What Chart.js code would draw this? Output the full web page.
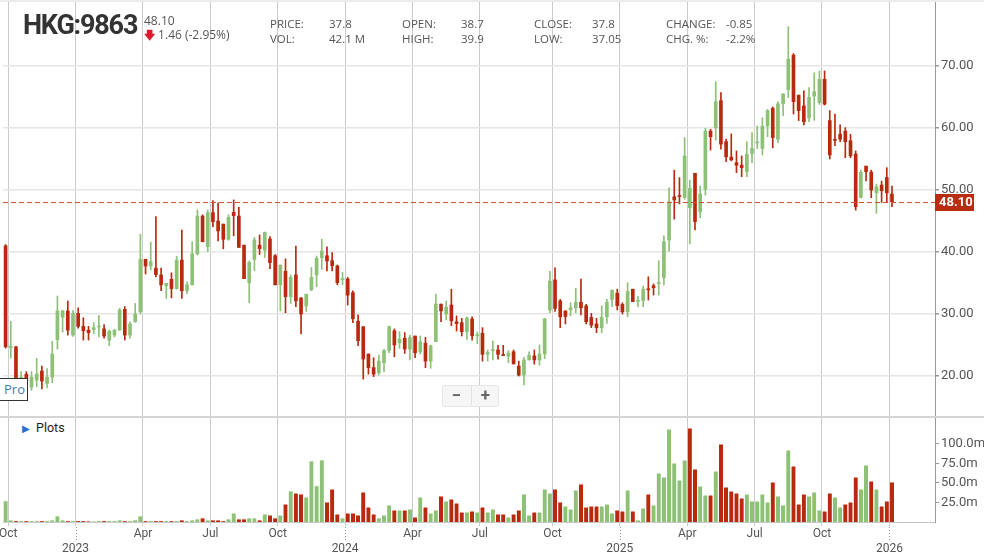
<!DOCTYPE html>
<html>
<head>
<meta charset="utf-8">
<script src="https://cdn.jsdelivr.net/npm/chart.js@4.4.1/dist/chart.umd.min.js"></script>
<style>
  html, body { margin: 0; padding: 0; background: #fff; }
  body { width: 984px; height: 556px; position: relative; overflow: hidden; font-family: "Open Sans", sans-serif; }
  canvas { position: absolute; left: 0; }
  #priceChart { top: 0; }
  #volumeChart { top: 418px; }
  .topband { position: absolute; left: 0; top: 0; width: 984px; height: 2px; background: #ececec; }
  .sep { position: absolute; left: 0; top: 416px; width: 984px; height: 2px; background: #d4d4d4; }
  .sym { position: absolute; left: 23px; top: 9px; font: bold 27px Roboto; letter-spacing: -1.2px; color: #333; }
  .last { position: absolute; left: 144px; top: 12px; font-size: 12px; color: #555; }
  .chg { position: absolute; left: 144px; top: 26px; font-size: 12px; color: #555; }
  .chg b { color: #e0182d; font-size: 11px; }
  .q { position: absolute; font-size: 11.5px; color: #555; line-height: 14px; }
  .plots { position: absolute; left: 20px; top: 420px; background: #fff; padding: 0 6px 0 2px; font: 12.5px Roboto; color: #222; }
  .plots span { color: #2a6fd6; font-size: 10px; margin-right: 6px; }
  .zoom { position: absolute; left: 442px; top: 385px; width: 55px; height: 20px; background: #f6f6f6; border: 1px solid #e6e6e6; border-radius: 2px; }
  .zoom div { position: absolute; top: -1px; width: 27px; text-align: center; font: bold 17px Roboto; color: #666; }
  .pro { position: absolute; left: -3px; top: 378px; width: 29px; height: 21px; border: 1.5px solid #333; background: #fff; font: 13px "Open Sans"; color: #4a78aa; line-height: 21px; text-indent: 6px; }
</style>
</head>
<body>
<canvas id="priceChart" width="984" height="418"></canvas>
<canvas id="volumeChart" width="984" height="138"></canvas>
<div class="topband"></div>
<div class="sep"></div>
<div class="sym">HKG:9863</div>
<div class="last">48.10</div>
<div class="chg"><b>&#129095;</b> 1.46 (-2.95%)</div>
<div class="q" style="left:270px;top:17px">PRICE:</div>
<div class="q" style="left:329px;top:17px">37.8</div>
<div class="q" style="left:270px;top:32px">VOL:</div>
<div class="q" style="left:329px;top:32px">42.1 M</div>
<div class="q" style="left:402px;top:17px">OPEN:</div>
<div class="q" style="left:461px;top:17px">38.7</div>
<div class="q" style="left:402px;top:32px">HIGH:</div>
<div class="q" style="left:461px;top:32px">39.9</div>
<div class="q" style="left:534px;top:17px">CLOSE:</div>
<div class="q" style="left:592px;top:17px">37.8</div>
<div class="q" style="left:534px;top:32px">LOW:</div>
<div class="q" style="left:592px;top:32px">37.05</div>
<div class="q" style="left:666px;top:17px">CHANGE:</div>
<div class="q" style="left:726px;top:17px">-0.85</div>
<div class="q" style="left:666px;top:32px">CHG. %:</div>
<div class="q" style="left:726px;top:32px">-2.2%</div>
<div class="plots"><span>&#9654;</span>Plots</div>
<div class="zoom"><div style="left:0">&minus;</div><div style="left:28px;border-left:1px solid #e2e2e2">+</div></div>
<div class="pro">Pro</div>
<script>
// weekly candles, first week starts Monday 2022-09-26
const firstWeek = "2022-09-26";

const openP = [41.0, 24.6, 24.7, 18.5, 20.3, 18.2, 19.35, 20.8, 18.8, 19.8,
  25.85, 29.5, 30.5, 26.6, 30.1, 28.0, 27.4, 27.5, 27.9, 27.6,
  25.8, 26.6, 27.4, 30.75, 26.6, 28.75, 30.4, 38.8, 37.75, 37.4,
  36.3, 34.55, 35.6, 34.1, 38.7, 33.75, 34.7, 39.7, 45.8, 40.85,
  46.35, 45.0, 44.5, 42.05, 46.4, 45.8, 41.1, 35.05, 38.8, 41.1,
  40.3, 42.1, 39.4, 34.7, 36.9, 32.8, 36.3, 32.6, 31.3, 33.9,
  36.3, 39.1, 39.4, 38.6, 37.75, 35.55, 35.65, 33.45, 28.85, 27.95,
  23.55, 21.35, 20.5, 22.15, 24.1, 27.3, 25.35, 26.1, 24.35, 26.45,
  23.9, 25.3, 22.4, 25.55, 31.6, 30.0, 31.45, 28.75, 28.6, 27.15,
  29.2, 26.5, 26.9, 23.5, 24.1, 24.2, 23.45, 23.2, 23.9, 21.6,
  20.15, 22.6, 23.25, 22.6, 23.55, 30.65, 35.5, 32.1, 30.5, 30.65,
  31.0, 31.9, 31.3, 29.45, 28.4, 27.8, 29.55, 32.35, 33.35, 31.55,
  30.35, 34.0, 32.05, 32.15, 34.05, 34.55, 34.9, 35.85, 41.95, 48.9,
  49.05, 48.8, 47.15, 52.7, 46.5, 50.1, 59.5, 60.05, 64.4, 57.8,
  55.3, 54.4, 54.0, 52.95, 55.9, 57.6, 56.7, 60.35, 63.15, 58.2,
  63.9, 66.2, 71.75, 65.3, 63.55, 61.65, 65.15, 64.1, 67.85, 61.2,
  58.1, 59.0, 59.5, 57.95, 55.8, 48.75, 53.85, 52.9, 49.55, 50.8,
  52.0, 49.35];
const highP = [41.2, 28.8, 24.8, 20.7, 20.7, 20.7, 22.85, 21.6, 21.2, 25.6,
  32.9, 30.6, 32.1, 30.6, 31.0, 29.4, 28.0, 28.6, 29.8, 28.3,
  27.4, 27.5, 30.9, 31.2, 28.75, 31.7, 42.85, 38.85, 41.6, 45.7,
  37.4, 34.95, 36.65, 39.3, 43.55, 35.2, 41.65, 46.8, 46.0, 46.8,
  48.3, 47.95, 44.5, 46.0, 48.4, 47.2, 41.1, 38.55, 42.35, 42.75,
  43.2, 42.5, 39.6, 37.9, 38.9, 36.3, 40.95, 32.6, 33.2, 37.5,
  39.35, 42.05, 40.85, 39.9, 37.9, 36.7, 35.9, 33.75, 29.85, 27.95,
  23.55, 22.95, 23.4, 24.3, 28.05, 27.6, 27.15, 27.0, 26.6, 26.45,
  26.45, 26.25, 25.0, 33.2, 31.6, 32.1, 34.0, 29.7, 29.3, 29.55,
  29.55, 27.1, 27.8, 24.2, 25.65, 24.95, 24.95, 24.1, 24.2, 22.4,
  23.0, 23.9, 24.2, 25.0, 29.3, 36.9, 37.45, 32.35, 30.5, 31.8,
  34.15, 35.65, 31.55, 30.1, 29.3, 31.3, 32.35, 33.85, 34.0, 31.8,
  35.05, 34.0, 32.8, 34.5, 36.0, 34.85, 38.6, 42.6, 50.35, 53.2,
  52.0, 58.45, 51.6, 52.7, 50.65, 59.95, 59.8, 67.45, 65.7, 58.2,
  59.05, 56.3, 55.5, 57.8, 59.25, 60.3, 61.65, 63.0, 63.4, 64.25,
  65.5, 76.35, 72.0, 65.3, 66.0, 66.5, 68.9, 69.2, 69.2, 62.8,
  62.25, 60.5, 60.05, 59.0, 56.3, 53.2, 53.85, 53.2, 50.95, 51.45,
  53.6, 50.65];
const lowP = [24.5, 22.9, 18.5, 17.8, 18.8, 17.7, 18.3, 17.9, 18.1, 18.9,
  24.35, 27.1, 26.6, 26.4, 27.7, 25.8, 25.8, 26.8, 26.3, 26.1,
  24.9, 26.3, 27.4, 25.8, 26.1, 28.65, 30.0, 36.45, 37.1, 36.0,
  33.75, 32.5, 32.6, 34.0, 32.5, 33.3, 34.7, 39.5, 41.65, 40.05,
  44.1, 41.8, 40.5, 41.9, 42.6, 40.75, 35.7, 31.8, 37.0, 39.6,
  39.1, 37.3, 34.7, 30.5, 30.2, 31.7, 31.2, 26.8, 30.4, 33.75,
  34.4, 37.2, 36.95, 36.95, 34.7, 34.7, 31.45, 28.6, 24.9, 19.5,
  20.3, 19.9, 20.15, 20.7, 23.75, 23.1, 24.45, 23.65, 22.6, 22.95,
  23.55, 21.35, 21.25, 25.55, 28.75, 29.05, 28.1, 27.25, 26.45, 25.9,
  25.8, 25.2, 22.4, 22.4, 22.6, 22.7, 23.3, 22.15, 21.95, 20.0,
  18.55, 22.6, 21.9, 21.75, 22.8, 30.2, 30.4, 27.8, 28.4, 29.7,
  30.2, 29.85, 28.4, 27.8, 27.0, 27.0, 28.5, 31.2, 30.65, 30.0,
  29.55, 32.0, 31.2, 31.2, 32.25, 33.05, 33.05, 34.7, 40.15, 45.3,
  47.75, 48.5, 41.3, 43.55, 45.5, 49.2, 56.45, 58.05, 56.6, 54.55,
  54.7, 52.8, 52.15, 52.15, 54.4, 56.7, 55.65, 58.6, 56.8, 57.65,
  62.0, 64.9, 62.25, 61.2, 60.5, 61.0, 61.25, 63.8, 63.7, 55.0,
  57.15, 57.8, 55.2, 55.2, 46.75, 48.75, 51.45, 48.75, 46.25, 48.0,
  48.0, 47.3];
const closeP = [24.7, 24.8, 19.5, 19.8, 19.2, 19.8, 20.3, 19.2, 19.8, 23.55,
  30.5, 30.5, 27.4, 30.1, 28.0, 27.3, 27.0, 27.8, 28.0, 26.45,
  27.25, 27.4, 30.65, 26.6, 28.4, 30.0, 38.8, 37.75, 38.45, 36.35,
  34.7, 34.95, 34.1, 38.7, 33.75, 34.7, 39.7, 45.8, 41.65, 46.35,
  44.9, 43.4, 42.05, 45.6, 45.85, 40.75, 35.7, 38.3, 41.95, 40.55,
  43.2, 38.3, 34.7, 37.9, 32.8, 35.9, 32.1, 30.0, 33.2, 35.9,
  39.0, 40.15, 38.55, 37.8, 35.05, 35.7, 33.05, 29.25, 25.7, 22.75,
  21.35, 20.3, 22.4, 24.1, 27.95, 25.0, 25.95, 24.35, 26.2, 23.75,
  25.5, 22.4, 24.85, 31.6, 30.5, 31.1, 28.9, 28.45, 27.15, 29.35,
  26.5, 26.6, 23.5, 23.8, 24.2, 23.5, 23.3, 23.7, 21.95, 20.15,
  22.6, 23.35, 22.6, 23.55, 29.2, 35.3, 30.9, 29.55, 29.6, 31.0,
  31.9, 31.0, 28.75, 28.2, 27.8, 29.45, 31.9, 33.85, 31.35, 30.35,
  33.6, 32.0, 32.15, 34.0, 33.9, 34.25, 35.05, 41.65, 48.1, 48.4,
  48.95, 55.5, 50.25, 44.9, 49.35, 59.5, 58.6, 64.25, 57.4, 55.35,
  54.85, 54.0, 53.6, 55.75, 56.7, 57.7, 60.3, 62.8, 58.45, 63.9,
  65.5, 71.1, 64.25, 62.8, 61.0, 64.95, 65.85, 67.85, 63.85, 55.65,
  58.0, 58.2, 57.8, 55.5, 47.3, 52.85, 52.95, 50.0, 50.5, 49.9,
  49.55, 48.1];
// weekly volume, millions
const volumeM = [27, 2.6, 1.3, 1.3, 1.3, 1.3, 1.3, 1.3, 1.3, 2.6,
  7.7, 2.6, 1.3, 1.3, 1.3, 0.9, 0.5, 0.5, 1.3, 1.3,
  1.3, 0.9, 2.1, 1.3, 1.3, 2.6, 7.7, 1.3, 0.9, 1.3,
  1.3, 0.9, 1.3, 1.3, 2.6, 1.3, 2.1, 3.8, 5.1, 2.6,
  2.6, 2.6, 1.3, 3.8, 11.1, 3.8, 3.8, 5.1, 5.1, 2.6,
  9.8, 8.5, 5.1, 8.5, 22.6, 39.7, 36.8, 35.5, 31.6, 78.2,
  46.2, 79.5, 25.2, 41.9, 9.8, 5.1, 11.1, 11.1, 8.5, 38.0,
  18.8, 9.8, 5.1, 8.5, 21.4, 15.0, 15.0, 15.0, 16.2, 6.0,
  31.6, 18.8, 11.1, 15.0, 32.9, 26.5, 29.1, 23.9, 12.4, 12.4,
  13.7, 12.4, 18.8, 12.4, 16.2, 9.8, 9.8, 6.0, 9.8, 15.0,
  35.5, 8.5, 12.4, 12.4, 41.9, 36.8, 41.9, 25.2, 20.1, 16.2,
  40.6, 48.3, 18.8, 20.1, 20.1, 20.1, 22.6, 11.1, 15.0, 13.7,
  40.6, 13.7, 2.1, 17.5, 35.5, 21.4, 62.4, 57.3, 118.8, 75.2,
  53.4, 79.1, 120.1, 67.5, 45.7, 34.2, 34.2, 65.0, 99.6, 44.4,
  39.3, 36.8, 30.3, 35.5, 26.5, 26.5, 35.5, 25.2, 50.9, 32.9,
  21.4, 91.9, 71.4, 22.6, 35.5, 32.9, 38.0, 15.0, 13.7, 36.8,
  31.6, 18.8, 22.6, 25.2, 57.3, 41.9, 72.7, 52.1, 41.9, 20.1,
  26.5, 50.9];

const priceTicks = [20, 30, 40, 50, 60, 70];
const volumeTicks = [25, 50, 75, 100];
const monthNames = ["Jan", "Feb", "Mar", "Apr", "May", "Jun", "Jul", "Aug", "Sep", "Oct", "Nov", "Dec"];

const GREEN = "#8cc176", RED = "#b8290e";
const lastPrice = closeP[closeP.length - 1];

// week dates -> first week of each quarter month gets a gridline/label
const weeks = openP.map((_, i) => {
  const d = new Date(firstWeek + "T00:00:00Z");
  d.setUTCDate(d.getUTCDate() + 7 * i);
  return d;
});
const xTicks = [];
weeks.forEach((d, i) => {
  if (i === 0) return;
  const m = d.getUTCMonth();
  if (m !== weeks[i - 1].getUTCMonth() && m % 3 === 0) {
    xTicks.push({ value: i - 0.5, label: m === 0 ? ["", String(d.getUTCFullYear())] : monthNames[m], year: m === 0 });
  }
});
const tickLabel = v => { const t = xTicks.find(t => t.value === v); return t ? t.label : ""; };

const isUp = i => closeP[i] >= openP[i];
const volUp = i => i === 0 || closeP[i] >= closeP[i - 1];

const xRange = { min: -0.5, max: 179.3 };

const lastPriceLine = {
  id: "lastPriceLine",
  afterDatasetsDraw(chart) {
    const ctx = chart.ctx, a = chart.chartArea;
    const y = Math.round(chart.scales.y.getPixelForValue(lastPrice)) + 0.5;
    ctx.save();
    ctx.strokeStyle = "#d4502f";
    ctx.lineWidth = 1;
    ctx.setLineDash([5, 3]);
    ctx.beginPath();
    ctx.moveTo(a.left, y);
    ctx.lineTo(a.right, y);
    ctx.stroke();
    ctx.restore();
  },
  afterDraw(chart) {
    const ctx = chart.ctx, a = chart.chartArea;
    const y = chart.scales.y.getPixelForValue(lastPrice);
    ctx.save();
    ctx.fillStyle = "#b82c10";
    ctx.fillRect(a.right, Math.round(y) - 8, 39, 17);
    ctx.fillStyle = "#fff";
    ctx.font = "bold 13px Roboto";
    ctx.textBaseline = "middle";
    ctx.fillText(lastPrice.toFixed(2), a.right + 4, Math.round(y) + 1);
    ctx.restore();
  }
};

const yearDots = {
  id: "yearDots",
  afterDraw(chart) {
    const ctx = chart.ctx, x = chart.scales.x, b = chart.chartArea.bottom;
    ctx.save();
    ctx.strokeStyle = "#999";
    ctx.lineWidth = 1;
    ctx.setLineDash([1, 2]);
    xTicks.filter(t => t.year).forEach(t => {
      const px = Math.round(x.getPixelForValue(t.value)) + 0.5;
      ctx.beginPath();
      ctx.moveTo(px, b + 5);
      ctx.lineTo(px, b + 19);
      ctx.stroke();
    });
    ctx.restore();
  }
};

const noPad = s => { s.paddingLeft = 0; s.paddingRight = 0; s.paddingTop = 0; s.paddingBottom = 0; };

const xAxis = (showTicks) => ({
  type: "linear",
  offset: false,
  min: xRange.min,
  max: xRange.max,
  afterBuildTicks: s => { s.ticks = xTicks.map(t => ({ value: t.value })); },
  afterFit: s => { s.height = showTicks ? 34 : 0; noPad(s); },
  grid: { color: "#cbcbcb", lineWidth: 1, drawTicks: showTicks, tickLength: 4, offset: false },
  border: { display: showTicks, color: "#c8c8c8" },
  ticks: {
    display: showTicks, autoSkip: false, maxRotation: 0, padding: 1,
    color: "#555", font: { family: "Roboto", size: 12 },
    callback: v => tickLabel(v)
  }
});

Chart.defaults.animation = false;

new Chart(document.getElementById("priceChart"), {
  type: "bar",
  data: {
    datasets: [
      {
        label: "wick",
        data: openP.map((_, i) => ({ x: i, y: [lowP[i], highP[i]] })),
        backgroundColor: ctx => isUp(ctx.dataIndex) ? GREEN : RED,
        barThickness: 1,
        grouped: false,
        order: 2
      },
      {
        label: "body",
        data: openP.map((o, i) => ({ x: i, y: [Math.min(o, closeP[i]), Math.max(o, closeP[i])] })),
        backgroundColor: ctx => isUp(ctx.dataIndex) ? GREEN : RED,
        barThickness: 3,
        minBarLength: 1,
        grouped: false,
        order: 1
      }
    ]
  },
  options: {
    responsive: false,
    devicePixelRatio: 1,
    layout: { autoPadding: false, padding: { left: 3, right: 0, top: 2, bottom: 1 } },
    plugins: { legend: { display: false }, tooltip: { enabled: false } },
    scales: {
      x: xAxis(false),
      y: {
        position: "right",
        min: 13.39, max: 80.32,
        afterBuildTicks: s => { s.ticks = priceTicks.map(v => ({ value: v })); },
        afterFit: s => { s.width = 49; noPad(s); },
        grid: { color: "#e6e6e6", lineWidth: 1.5, tickLength: 4, tickColor: "#999", drawTicks: true },
        border: { color: "#999" },
        ticks: { color: "#555", padding: 2, font: { family: "Roboto", size: 13 }, callback: v => v.toFixed(2) }
      }
    }
  },
  plugins: [lastPriceLine]
});

new Chart(document.getElementById("volumeChart"), {
  type: "bar",
  data: {
    datasets: [{
      label: "Volume",
      data: volumeM.map((v, i) => ({ x: i, y: v })),
      backgroundColor: ctx => volUp(ctx.dataIndex) ? GREEN : RED,
      borderColor: ctx => volUp(ctx.dataIndex) ? "#c4e0b4" : "#e4907e",
      borderWidth: { top: 1, left: 0, right: 0, bottom: 0 },
      borderSkipped: "start",
      barThickness: 4
    }]
  },
  options: {
    responsive: false,
    devicePixelRatio: 1,
    layout: { autoPadding: false, padding: { left: 3, right: 0, top: 0, bottom: 0 } },
    plugins: { legend: { display: false }, tooltip: { enabled: false } },
    scales: {
      x: xAxis(true),
      y: {
        position: "right",
        min: 0, max: 133.3,
        afterBuildTicks: s => { s.ticks = volumeTicks.map(v => ({ value: v })); },
        afterFit: s => { s.width = 49; noPad(s); },
        grid: { drawOnChartArea: false, tickLength: 4, tickColor: "#999" },
        border: { color: "#999" },
        ticks: { color: "#555", padding: 2, font: { family: "Roboto", size: 13 }, callback: v => v.toFixed(1) + "m" }
      }
    }
  },
  plugins: [yearDots]
});
</script>
</body>
</html>
